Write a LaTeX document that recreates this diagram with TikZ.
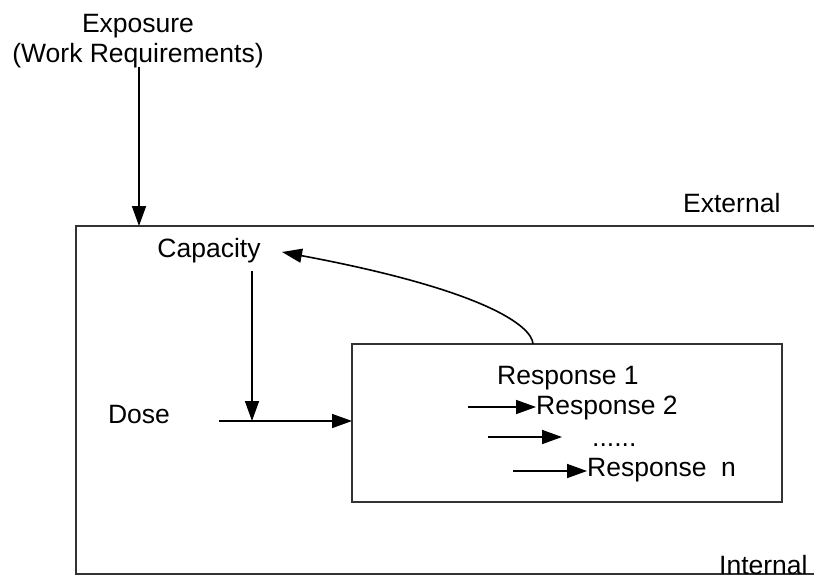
\documentclass[tikz,border=0pt]{standalone}
\usepackage{fontspec}
\setmainfont{Liberation Sans}
\usetikzlibrary{arrows.meta}
\begin{document}
\begin{tikzpicture}[x=1pt,y=-1pt,
  lbl/.style={inner sep=0pt,anchor=base,font=\fontsize{26.5}{31}\selectfont},
  lblw/.style={lbl,anchor=base west},
  conn/.style={line width=1.6pt,-{Triangle[length=20pt,width=14pt]}},
  frame/.style={line width=1.8pt,draw=black!80}]
\useasboundingbox (0,0) rectangle (814,587);

% outer region (right side open)
\draw[frame] (814,226) -- (76,226) -- (76,574) -- (814,574);
% inner response box
\draw[frame] (352,344) rectangle (782,502);
\coordinate (boxW) at (352,421);
\coordinate (boxTop) at (533,344);

% labels
\node[lbl] (exp) at (138,32) {Exposure};
\node[lbl] (work) at (138,62) {(Work Requirements)};
\node[lblw] (ext) at (683,212) {External};
\node[lblw] (int) at (719,574) {Internal};
\node[lbl] (cap) at (209,257) {Capacity};
\node[lbl] (dose) at (139,423) {Dose};
\node[lblw] (r1) at (497,384) {Response 1};
\node[lblw] (r2) at (536,414) {Response 2};
\node[lblw] (rd) at (592,446) {......};
\node[lblw] (rn) at (587,476) {Response\ \ n};

% exposure into the external frame
\coordinate (expS) at (139,67);
\coordinate (expE) at (139,226);
\draw[conn] (expS) -- (expE);

% capacity down to the dose line
\coordinate (capS) at (252,271);
\coordinate (capE) at (252,421);
\draw[conn] (capS) -- (capE);

% dose into the response box
\coordinate (doseS) at (219,421);
\draw[conn] (doseS) -- (boxW);

% feedback from responses back to capacity
\coordinate (capIn) at (282,252);
\draw[conn] (boxTop) .. controls (532,326) and (485,290) .. (capIn);

% response chain arrows
\coordinate (a1) at (468,407);
\coordinate (a2) at (488,437);
\coordinate (a3) at (513,471);
\draw[conn] (a1) -- (r2.west |- a1);
\draw[conn] (a2) -- (562,437);
\draw[conn] (a3) -- (rn.west |- a3);
\end{tikzpicture}
\end{document}
